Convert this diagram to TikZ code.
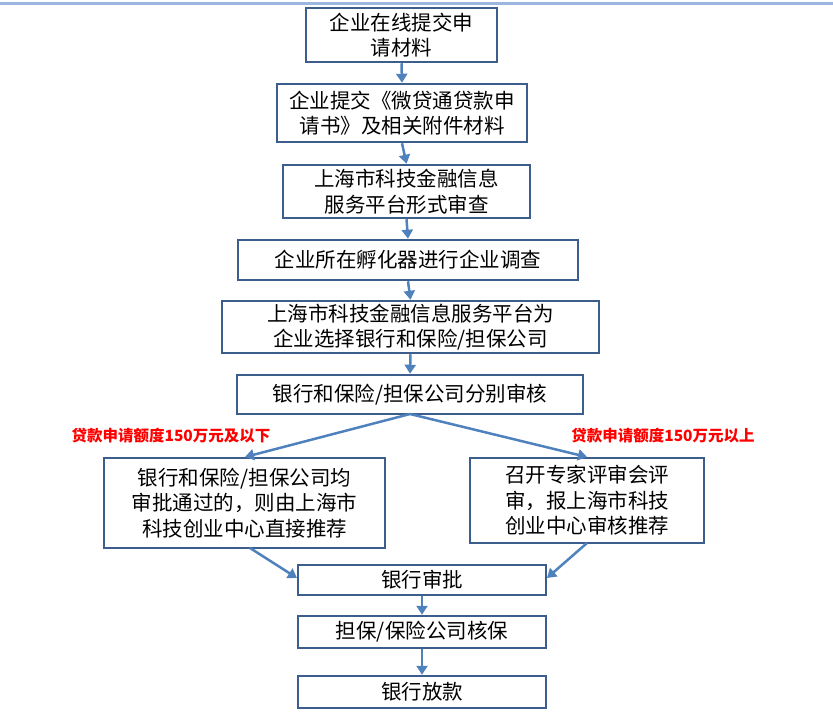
\documentclass[tikz,border=0pt]{standalone}
\usepackage{fontspec}
\setmainfont{Noto Sans CJK SC}
\usetikzlibrary{arrows.meta}
\definecolor{bx}{HTML}{3B5E8C}
\definecolor{ar}{HTML}{4F81BD}
\definecolor{tl}{HTML}{9BB7E0}
\begin{document}
\begin{tikzpicture}[x=1pt,y=-1pt,
  bxs/.style={draw=bx,line width=2.5pt,inner sep=0pt,align=center,font=\fontsize{20.5}{25.5}\selectfont},
  arr/.style={draw=ar,line width=2.5pt,-{Triangle[length=9pt,width=11pt]}},
  lab/.style={text=red,font=\bfseries\fontsize{15.5}{17}\selectfont}]
\useasboundingbox (0,0) rectangle (833,718);
\draw[tl,line width=3pt] (0,3) -- (833,3);
\newcommand{\bx}[6]{\node[bxs,minimum width=#4-#2,minimum height=#5-#3] (#1) at ({(#2+#4)/2},{(#3+#5)/2}) {#6};}
\bx{n1}{306}{8}{497}{62}{企业在线提交申\\请材料}
\bx{n2}{277}{84}{527}{142}{企业提交《微贷通贷款申\\请书》及相关附件材料}
\bx{n3}{283}{165}{530}{218}{上海市科技金融信息\\服务平台形式审查}
\bx{n4}{238}{240}{578}{280}{企业所在孵化器进行企业调查}
\bx{n5}{222}{301}{599}{353}{上海市科技金融信息服务平台为\\企业选择银行和保险/担保公司}
\bx{n6}{237}{375}{583}{414}{银行和保险/担保公司分别审核}
\bx{n7}{104}{458}{385}{548}{银行和保险/担保公司均\\审批通过的，则由上海市\\科技创业中心直接推荐}
\bx{n8}{470}{458}{704}{543}{召开专家评审会评\\审，报上海市科技\\创业中心审核推荐}
\bx{n9}{298}{565}{546}{595}{银行审批}
\bx{n10}{298}{616}{546}{648}{担保/保险公司核保}
\bx{n11}{298}{676}{546}{708}{银行放款}
\node[lab] (l1) at (171,436) {贷款申请额度150万元及以下};
\node[lab] (l2) at (663,436) {贷款申请额度150万元以上};
\draw[arr] (n1.south) -- (n2.north);
\draw[arr] (n2.south) -- (n3.north);
\draw[arr] (n3.south) -- (n4.north);
\draw[arr] (n4.south) -- (n5.north);
\draw[arr] (n5.south) -- (n6.north);
\coordinate (s6) at (410,414);
\draw[arr] (s6) -- (245,457);
\draw[arr] (s6) -- (587,457);
\draw[arr] (250,548) -- (297,578);
\draw[arr] (587,543) -- (547,578);
\draw[arr] (n9.south) -- (n10.north);
\draw[arr] (n10.south) -- (n11.north);
\end{tikzpicture}
\end{document}
